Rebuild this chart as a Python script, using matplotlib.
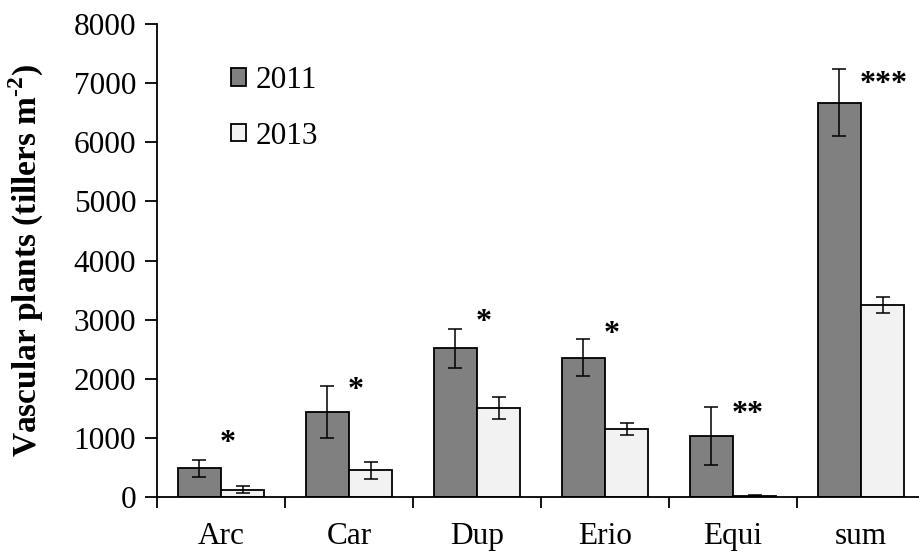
import numpy as np
import matplotlib
matplotlib.use('Agg')
import matplotlib.pyplot as plt

plt.rcParams['font.family'] = 'Liberation Serif'
plt.rcParams['mathtext.fontset'] = 'custom'
plt.rcParams['mathtext.rm'] = 'Liberation Serif:bold'
plt.rcParams['mathtext.bf'] = 'Liberation Serif:bold'

categories = ['Arc', 'Car', 'Dup', 'Erio', 'Equi', 'sum']
vals_2011 = [485, 1432, 2514, 2357, 1032, 6669]
err_2011 = [140, 440, 327, 315, 496, 564]
vals_2013 = [124, 451, 1505, 1150, 20, 3247]
err_2013 = [60, 140, 190, 107, 10, 141]
stars = ['*', '*', '*', '*', '**', '***']
star_y = [900, 1800, 2950, 2750, 1400, 6980]

fig = plt.figure(figsize=(9.19, 5.52), dpi=100)
ax = fig.add_axes([157 / 919, 1 - 497 / 552, 768 / 919, 473 / 552])

x = np.arange(len(categories))
w = 0.336
ekw = dict(elinewidth=1.1, capthick=1.1, capsize=5, ecolor='black')
ax.bar(x - w / 2, vals_2011, w, yerr=err_2011, color='#808080', edgecolor='black',
       linewidth=1.3, error_kw=ekw, label='2011', zorder=2)
ax.bar(x + w / 2, vals_2013, w, yerr=err_2013, color='#f2f2f2', edgecolor='black',
       linewidth=1.3, error_kw=ekw, label='2013', zorder=2)

for i, (s, yy) in enumerate(zip(stars, star_y)):
    ax.text(i - 0.01, yy, s, ha='left', va='center', fontsize=23, fontweight='bold')

ax.set_xlim(-0.5, 5.5)
ax.set_ylim(0, 8000)
ax.set_yticks(np.arange(0, 8001, 1000))
ax.tick_params(axis='y', labelsize=22.5, length=9, width=1.3, direction='out', pad=6)

ax.set_xticks(np.arange(-0.5, 5.6, 1))
ax.set_xticklabels([])
ax.tick_params(axis='x', which='major', length=8, width=1.3, direction='out')
ax.set_xticks(x, minor=True)
ax.set_xticklabels(categories, minor=True)
ax.tick_params(axis='x', which='minor', length=0, labelsize=22.5, pad=18)

ax.spines['top'].set_visible(False)
ax.spines['right'].set_visible(False)
ax.spines['left'].set_linewidth(1.3)
ax.spines['bottom'].set_linewidth(1.3)

ax.set_ylabel(r'Vascular plants (tillers m$^{\text{-2}}$)', fontsize=24,
              fontweight='bold', labelpad=20)

ax.legend(loc='upper left', bbox_to_anchor=(0.08, 0.937), frameon=False, fontsize=22.5,
          handlelength=0.48, handleheight=0.48, handletextpad=0.3, labelspacing=0.85,
          borderaxespad=0)

fig.savefig('out.png', dpi=100)
